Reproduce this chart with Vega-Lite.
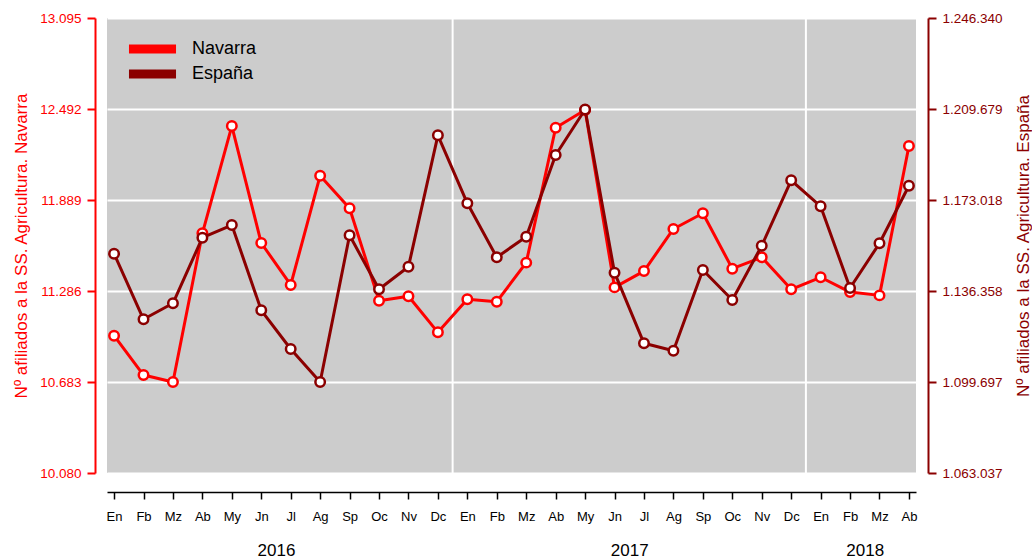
{
  "$schema": "https://vega.github.io/schema/vega-lite/v6.json",
  "autosize": "none",
  "width": 809,
  "height": 455,
  "padding": {"left": 107, "top": 18, "right": 116, "bottom": 85},
  "config": {
    "font": "Liberation Sans",
    "view": {"fill": "#CCCCCC", "stroke": null},
    "locale": {"number": {"decimal": ",", "thousands": ".", "grouping": [3], "currency": ["", " €"]}}
  },
  "datasets": {
    "afiliados": [
      {"i": 0, "navarra": 10990, "espana": 1151383},
      {"i": 1, "navarra": 10729, "espana": 1124957},
      {"i": 2, "navarra": 10683, "espana": 1131402},
      {"i": 3, "navarra": 11668, "espana": 1157830},
      {"i": 4, "navarra": 12379, "espana": 1162946},
      {"i": 5, "navarra": 11604, "espana": 1128582},
      {"i": 6, "navarra": 11326, "espana": 1112992},
      {"i": 7, "navarra": 12050, "espana": 1099697},
      {"i": 8, "navarra": 11834, "espana": 1158797},
      {"i": 9, "navarra": 11222, "espana": 1137043},
      {"i": 10, "navarra": 11251, "espana": 1146147},
      {"i": 11, "navarra": 11012, "espana": 1199083},
      {"i": 12, "navarra": 11231, "espana": 1171688},
      {"i": 13, "navarra": 11215, "espana": 1149934},
      {"i": 14, "navarra": 11474, "espana": 1158233},
      {"i": 15, "navarra": 12368, "espana": 1191146},
      {"i": 16, "navarra": 12485, "espana": 1209500},
      {"i": 17, "navarra": 11310, "espana": 1143730},
      {"i": 18, "navarra": 11418, "espana": 1115288},
      {"i": 19, "navarra": 11697, "espana": 1112307},
      {"i": 20, "navarra": 11801, "espana": 1144818},
      {"i": 21, "navarra": 11434, "espana": 1132732},
      {"i": 22, "navarra": 11509, "espana": 1154607},
      {"i": 23, "navarra": 11297, "espana": 1180954},
      {"i": 24, "navarra": 11377, "espana": 1170480},
      {"i": 25, "navarra": 11279, "espana": 1137566},
      {"i": 26, "navarra": 11257, "espana": 1155574},
      {"i": 27, "navarra": 12247, "espana": 1178779}
    ],
    "cortes": [{"b": 11.5}, {"b": 23.5}]
  },
  "layer": [
    {
      "data": {"name": "cortes"},
      "mark": {"type": "rule", "color": "white", "strokeWidth": 2},
      "encoding": {
        "x": {
          "field": "b", "type": "quantitative",
          "scale": {"domain": [-0.24, 27.24], "nice": false, "zero": false},
          "axis": {
            "orient": "bottom", "values": [5.5, 17.5, 25.5],
            "labelExpr": "datum.value == 5.5 ? '2016' : datum.value == 17.5 ? '2017' : '2018'",
            "domain": false, "ticks": false, "grid": false, "title": null,
            "offset": 69, "labelPadding": 0, "labelBaseline": "top",
            "labelFontSize": 17, "labelColor": "black", "labelFlush": false
          }
        }
      }
    },
    {
      "data": {"name": "afiliados"},
      "encoding": {
        "x": {
          "field": "i", "type": "quantitative",
          "axis": {
            "orient": "bottom",
            "values": [0,1,2,3,4,5,6,7,8,9,10,11,12,13,14,15,16,17,18,19,20,21,22,23,24,25,26,27],
            "labelExpr": "['En','Fb','Mz','Ab','My','Jn','Jl','Ag','Sp','Oc','Nv','Dc'][datum.value % 12]",
            "offset": 19, "tickSize": 7, "tickWidth": 1.5, "domainWidth": 1.5,
            "domainColor": "black", "tickColor": "black", "labelColor": "black",
            "labelFontSize": 13, "labelPadding": 11, "labelOverlap": false,
            "grid": false, "title": null, "labelFlush": false
          }
        },
        "y": {
          "field": "navarra", "type": "quantitative",
          "scale": {"domain": [10080, 13095], "nice": false, "zero": false},
          "axis": {
            "orient": "left", "values": [10080, 10683, 11286, 11889, 12492, 13095], "format": ",d",
            "offset": 12, "tickSize": 8, "tickWidth": 2, "domainWidth": 2,
            "domainColor": "#FF0000", "tickColor": "#FF0000", "labelColor": "#FF0000",
            "labelFontSize": 13.5, "labelPadding": 6,
            "grid": true, "gridColor": "white", "gridWidth": 2,
            "title": "Nº afiliados a la SS. Agricultura. Navarra",
            "titleColor": "#FF0000", "titleFontSize": 17, "titleFontWeight": "normal", "titlePadding": 9
          }
        },
        "stroke": {
          "datum": "Navarra", "type": "nominal",
          "scale": {"domain": ["Navarra", "España"], "range": ["#FF0000", "#8B0000"]},
          "legend": {
            "title": null, "orient": "none", "legendX": 17, "legendY": 18.5,
            "symbolType": "M-2.94,0H2.94", "symbolStrokeWidth": 9, "symbolSize": 256,
            "symbolOffset": 16,
            "labelFontSize": 18, "labelColor": "black", "labelOffset": 27, "rowPadding": 0,
            "clipHeight": 25
          }
        }
      },
      "layer": [
        {"mark": {"type": "line", "strokeWidth": 3, "strokeCap": "round", "strokeJoin": "round"}},
        {"mark": {"type": "point", "fill": "white", "fillOpacity": 1, "strokeWidth": 2.5, "size": 90, "opacity": 1}}
      ]
    },
    {
      "data": {"name": "afiliados"},
      "encoding": {
        "x": {"field": "i", "type": "quantitative", "axis": null},
        "y": {
          "field": "espana", "type": "quantitative",
          "scale": {"domain": [1063037, 1246340], "nice": false, "zero": false},
          "axis": {
            "orient": "right", "values": [1063037, 1099697, 1136358, 1173018, 1209679, 1246340], "format": ",d",
            "offset": 12, "tickSize": 8, "tickWidth": 2, "domainWidth": 2,
            "domainColor": "#8B0000", "tickColor": "#8B0000", "labelColor": "#8B0000",
            "labelFontSize": 13.5, "labelPadding": 6, "grid": false,
            "title": "Nº afiliados a la SS. Agricultura. España",
            "titleColor": "#8B0000", "titleFontSize": 17, "titleFontWeight": "normal",
            "titlePadding": 30, "titleAngle": 270
          }
        },
        "stroke": {"datum": "España", "type": "nominal"}
      },
      "layer": [
        {"mark": {"type": "line", "strokeWidth": 3, "strokeCap": "round", "strokeJoin": "round"}},
        {"mark": {"type": "point", "fill": "white", "fillOpacity": 1, "strokeWidth": 2.5, "size": 90, "opacity": 1}}
      ]
    }
  ],
  "resolve": {"scale": {"y": "independent"}, "axis": {"x": "independent"}}
}
